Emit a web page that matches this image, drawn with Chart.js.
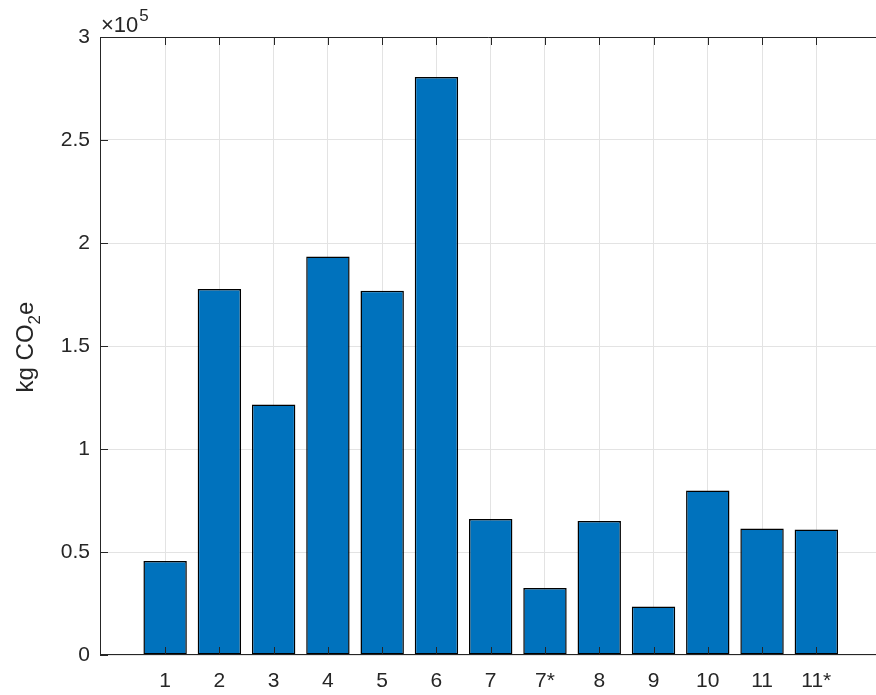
<!DOCTYPE html>
<html lang="en">
<head>
  <meta charset="UTF-8">
  <title>kg CO2e bar chart</title>
  <script src="https://cdn.jsdelivr.net/npm/chart.js"></script>
  <style>
    html, body { margin: 0; padding: 0; background: #fff; }
    #wrap { width: 876px; height: 695px; }
  </style>
</head>
<body>
<div id="wrap"><canvas id="myChart" width="876" height="695"></canvas></div>
<script>
  const categories = ['1', '2', '3', '4', '5', '6', '7', '7*', '8', '9', '10', '11', '11*'];
  const emissions = [45600, 177700, 121600, 193500, 176800, 280600, 66000, 32500, 65100, 23600, 79800, 61400, 60900];
  const yTicks = [0, 50000, 100000, 150000, 200000, 250000, 300000];

  const axisColor = '#262626';
  const fontFamily = '"Liberation Sans", Arial, Helvetica, sans-serif';

  // axis box lines + inward tick marks, MATLAB style
  const axesBox = {
    id: 'axesBox',
    afterDatasetsDraw(chart) {
      const { ctx, chartArea: a, scales: { x, y } } = chart;
      const len = 8;
      ctx.save();
      ctx.strokeStyle = axisColor;
      ctx.lineWidth = 1;
      ctx.beginPath();
      ctx.moveTo(a.left + 0.5, a.bottom);
      ctx.lineTo(a.left + 0.5, a.top + 0.5);
      ctx.lineTo(a.right, a.top + 0.5);
      ctx.moveTo(a.left, a.bottom - 0.5);
      ctx.lineTo(a.right, a.bottom - 0.5);
      x.ticks.forEach(t => {
        const px = Math.round(x.getPixelForValue(t.value)) + 0.5;
        ctx.moveTo(px, a.bottom);
        ctx.lineTo(px, a.bottom - len);
        ctx.moveTo(px, a.top);
        ctx.lineTo(px, a.top + len);
      });
      y.ticks.forEach(t => {
        const py = Math.round(y.getPixelForValue(t.value)) + 0.5;
        ctx.moveTo(a.left, py);
        ctx.lineTo(a.left + len, py);
      });
      ctx.stroke();

      // exponent label
      ctx.fillStyle = axisColor;
      ctx.textBaseline = 'alphabetic';
      ctx.textAlign = 'left';
      ctx.font = '22px ' + fontFamily;
      ctx.fillText('\u00d710', a.left + 1, 32);
      const w = ctx.measureText('\u00d710').width;
      ctx.font = '17px ' + fontFamily;
      ctx.fillText('5', a.left + 2 + w, 21);

      // y title with subscript
      ctx.translate(33, 347);
      ctx.rotate(-Math.PI / 2);
      ctx.font = '24px ' + fontFamily;
      const p1 = 'kg CO', p3 = 'e';
      const w1 = ctx.measureText(p1).width;
      const w3 = ctx.measureText(p3).width;
      ctx.font = '17px ' + fontFamily;
      const w2 = ctx.measureText('2').width;
      let sx = -(w1 + w2 + w3) / 2;
      ctx.font = '24px ' + fontFamily;
      ctx.fillText(p1, sx, 0);
      ctx.font = '17px ' + fontFamily;
      ctx.fillText('2', sx + w1, 7);
      ctx.font = '24px ' + fontFamily;
      ctx.fillText(p3, sx + w1 + w2, 0);
      ctx.restore();
    }
  };

  const ctx = document.getElementById('myChart').getContext('2d');
  new Chart(ctx, {
    type: 'bar',
    data: {
      datasets: [{
        data: emissions.map((v, i) => ({ x: i + 1, y: v })),
        backgroundColor: '#0072BD',
        borderColor: '#000000',
        borderWidth: 1.5,
        borderSkipped: false,
        categoryPercentage: 1,
        barPercentage: 0.8
      }]
    },
    options: {
      responsive: false,
      animation: false,
      layout: { padding: { top: 37, left: 0, right: 0, bottom: 0 } },
      plugins: { legend: { display: false }, tooltip: { enabled: false } },
      scales: {
        x: {
          type: 'linear',
          offset: false,
          min: -0.2,
          max: 14.1,
          afterBuildTicks: s => { s.ticks = categories.map((c, i) => ({ value: i + 1 })); },
          afterFit: s => { s.height = 40; },
          ticks: {
            callback: v => categories[v - 1],
            color: axisColor,
            font: { family: fontFamily, size: 21 },
            padding: 14,
            maxRotation: 0,
            autoSkip: false
          },
          grid: { color: '#e3e3e3', drawTicks: false, offset: false },
          border: { display: false }
        },
        y: {
          min: 0,
          max: 300000,
          afterBuildTicks: s => { s.ticks = yTicks.map(v => ({ value: v })); },
          afterFit: s => { s.width = 100; },
          ticks: {
            callback: v => String(v / 1e5),
            color: axisColor,
            font: { family: fontFamily, size: 21 },
            padding: 10
          },
          grid: { color: '#e3e3e3', drawTicks: false },
          border: { display: false }
        }
      }
    },
    plugins: [axesBox]
  });
</script>
</body>
</html>
